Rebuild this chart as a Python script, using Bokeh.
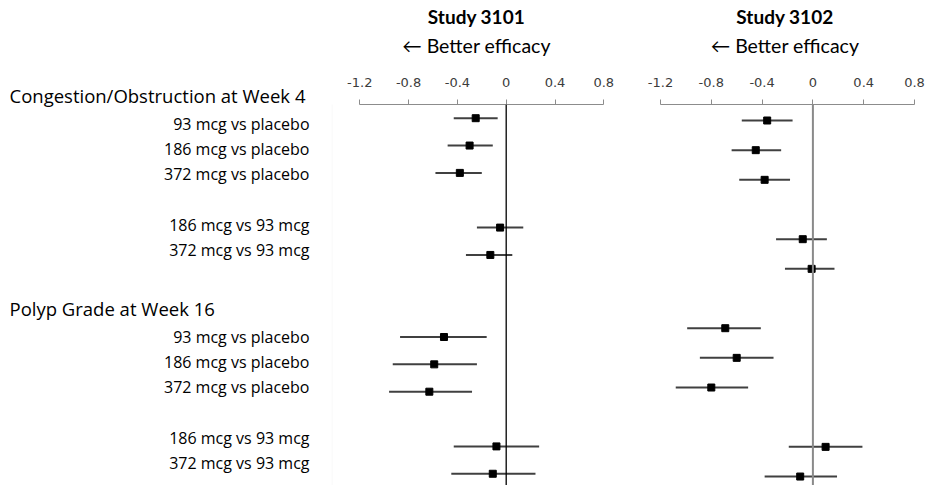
from bokeh.plotting import figure
from bokeh.layouts import row
from bokeh.models import (Range1d, FixedTicker, Span, Title, ColumnDataSource,
                          BoxAnnotation, LabelSet)
from bokeh.core.properties import value
from bokeh.embed import file_html
from bokeh.resources import INLINE

# ---------------- data ----------------
groups = ["Congestion/Obstruction at Week 4", "Polyp Grade at Week 16"]
comparisons = ["93 mcg vs placebo", "186 mcg vs placebo", "372 mcg vs placebo",
               "186 mcg vs 93 mcg", "372 mcg vs 93 mcg"]
studies = ["Study 3101", "Study 3102"]
subtitle = "\u2190 Better efficacy"
x_ticks = [-1.2, -0.8, -0.4, 0, 0.4, 0.8]
x_tick_labels = ["-1.2", "-0.8", "-0.4", "0", "0.4", "0.8"]

# rows: group 1 (5 comparisons) then group 2 (5 comparisons)
s3101_est = [-0.25, -0.30, -0.38, -0.05, -0.13, -0.51, -0.59, -0.63, -0.08, -0.11]
s3101_lo  = [-0.43, -0.48, -0.58, -0.24, -0.33, -0.87, -0.93, -0.96, -0.43, -0.45]
s3101_hi  = [-0.07, -0.11, -0.20, 0.14, 0.05, -0.16, -0.24, -0.28, 0.27, 0.24]

s3102_est = [-0.36, -0.45, -0.38, -0.08, -0.01, -0.69, -0.60, -0.80, 0.10, -0.10]
s3102_lo  = [-0.56, -0.64, -0.58, -0.29, -0.22, -0.99, -0.89, -1.08, -0.19, -0.38]
s3102_hi  = [-0.16, -0.25, -0.18, 0.11, 0.17, -0.41, -0.31, -0.51, 0.39, 0.19]

# ---------------- layout constants ----------------
H = 485
FRAME_TOP = 104
W_LABEL, W_P1, W_P2 = 331, 299, 300
LABEL_FONT = "Open Sans"
TITLE_FONT = "Lato"
TICK_FONT = "DejaVu Sans"

item_offsets = [0, 1, 2, 4, 5]


def row_slots(group_gap):
    slots = []
    for g in range(len(groups)):
        base = g * group_gap
        slots += [base + o for o in item_offsets]
    return slots


# ---------------- label column ----------------
lab_first, lab_step, lab_group_gap, head_off = 129.0, 25.3, 8.43, -1.04
lab = figure(width=W_LABEL, height=H, output_backend="svg", toolbar_location=None,
             min_border_left=0, min_border_right=0, min_border_bottom=0,
             min_border_top=FRAME_TOP, title=None,
             x_range=Range1d(0, W_LABEL),
             y_range=Range1d((H - lab_first) / lab_step, (FRAME_TOP - lab_first) / lab_step))
lab.axis.visible = False
lab.grid.visible = False
lab.outline_line_color = None

# first group heading sits just above the aligned frame -> drawn as a title
lab.add_layout(Title(text=groups[0], align="left", offset=9, text_font=LABEL_FONT,
                     text_font_size="18.5px", text_font_style="normal",
                     text_color="#000000", standoff=-6), "above")

head_src = ColumnDataSource(dict(x=[9] * (len(groups) - 1),
                                 y=[g * lab_group_gap + head_off for g in range(1, len(groups))],
                                 t=groups[1:]))
lab.add_layout(LabelSet(x="x", y="y", text="t", source=head_src,
                        text_font=value(LABEL_FONT), text_font_size=value("18.5px"),
                        text_align="left", text_baseline="alphabetic",
                        text_color="#000000"))

item_y = row_slots(lab_group_gap)
item_src = ColumnDataSource(dict(x=[309] * len(item_y), y=item_y,
                                 t=comparisons * len(groups)))
lab.add_layout(LabelSet(x="x", y="y", text="t", source=item_src,
                        text_font=value(LABEL_FONT), text_font_size=value("16px"),
                        text_align="right", text_baseline="alphabetic",
                        text_color="#000000"))


# ---------------- forest panels ----------------
def panel(study, est, lo, hi, width, b_left, b_right, zero_px, px_unit, first_px,
          slot_px, group_gap, zero_color, zero_width, with_box):
    frame_w = width - b_left - b_right
    x0 = -zero_px / px_unit
    x1 = (frame_w - zero_px) / px_unit
    y_top = -(first_px - FRAME_TOP) / slot_px
    y_bot = (H - first_px) / slot_px
    p = figure(width=width, height=H, output_backend="svg", toolbar_location=None,
               x_range=Range1d(x0, x1), y_range=Range1d(y_bot, y_top),
               x_axis_location="above", y_axis_location=None,
               min_border_left=b_left, min_border_right=b_right, min_border_bottom=0,
               min_border_top=FRAME_TOP, title=None)
    p.grid.visible = False
    p.outline_line_color = None
    p.background_fill_color = "white"

    ax = p.xaxis[0]
    ax.ticker = FixedTicker(ticks=x_ticks)
    ax.major_label_overrides = dict(zip(x_ticks, x_tick_labels))
    ax.bounds = (x_ticks[0], x_ticks[-1])
    ax.axis_line_color = "#8c8c8c"
    ax.major_tick_line_color = "#8c8c8c"
    ax.major_tick_out = 5
    ax.major_tick_in = 0
    ax.minor_tick_line_color = None
    ax.major_label_text_font = TICK_FONT
    ax.major_label_text_font_size = "13px"
    ax.major_label_text_color = "#3c3c3c"
    ax.major_label_standoff = 13
    # invisible spacer label: extra room between tick labels and the titles
    ax.axis_label = " "
    ax.axis_label_text_font_size = "1px"
    ax.axis_label_standoff = 10

    p.add_layout(Title(text=subtitle, align="center", text_font=TITLE_FONT,
                       text_font_size="19.5px", text_font_style="normal",
                       text_color="#000000", standoff=8), "above")
    p.add_layout(Title(text=study, align="center", text_font=TITLE_FONT,
                       text_font_size="19px", text_font_style="bold",
                       text_color="#000000", standoff=0), "above")

    if with_box:
        p.add_layout(BoxAnnotation(left=0.5, left_units="canvas", top=59, top_units="canvas",
                                   right=5000, right_units="canvas", bottom=5000,
                                   bottom_units="canvas", fill_alpha=0,
                                   line_color="#e6e6e6", line_width=1))

    p.add_layout(Span(location=0, dimension="height", line_color=zero_color,
                      line_width=zero_width))

    slots = row_slots(group_gap)
    src = ColumnDataSource(dict(y=slots, est=est, lo=lo, hi=hi))
    p.segment(x0="lo", y0="y", x1="hi", y1="y", source=src, line_color="#404040",
              line_width=2)
    p.scatter(x="est", y="y", source=src, marker="square", size=7,
              fill_color="black", line_color="black")
    return p


p1 = panel(studies[0], s3101_est, s3101_lo, s3101_hi, W_P1, b_left=0, b_right=9,
           zero_px=174.7, px_unit=122.0, first_px=117.7, slot_px=27.35, group_gap=8,
           zero_color="#000000", zero_width=1.3, with_box=True)
p2 = panel(studies[1], s3102_est, s3102_lo, s3102_hi, W_P2, b_left=9, b_right=0,
           zero_px=173.4, px_unit=127.0, first_px=120.0, slot_px=29.67, group_gap=7,
           zero_color="#8a8a8a", zero_width=2, with_box=False)

layout = row(lab, p1, p2)
open("out.html", "w").write(file_html(layout, INLINE))
